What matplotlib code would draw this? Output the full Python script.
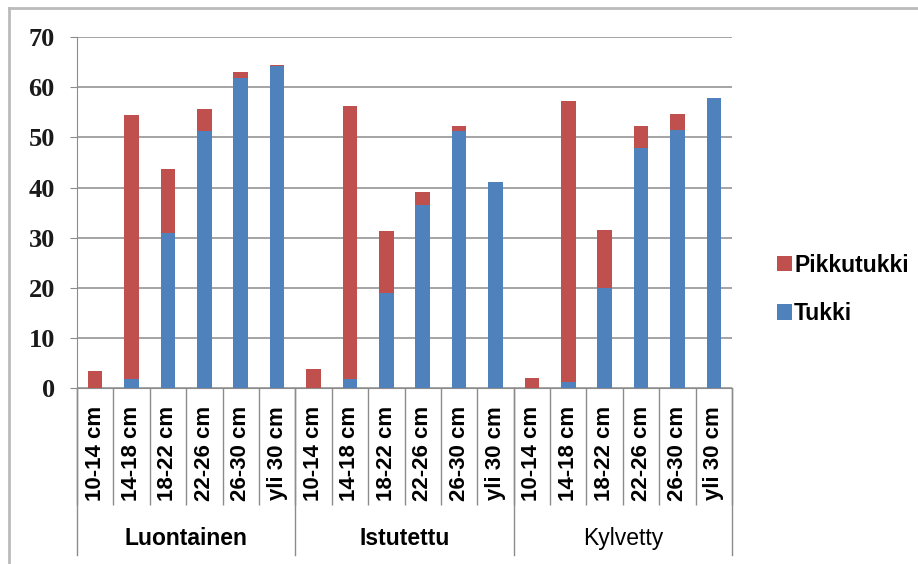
import numpy as np
import matplotlib.pyplot as plt
import matplotlib.transforms as mtransforms

groups = ['Luontainen', 'Istutettu', 'Kylvetty']
classes = ['10-14 cm', '14-18 cm', '18-22 cm', '22-26 cm', '26-30 cm', 'yli 30 cm']

# Tukki (blue, bottom) and Pikkutukki (red, on top), per group and diameter class
tukki = [0, 1.9, 30.9, 51.3, 61.9, 64.3,
         0, 1.8, 18.9, 36.6, 51.3, 41.2,
         0, 1.3, 20.0, 47.9, 51.5, 57.8]
pikkutukki = [3.4, 52.6, 12.9, 4.4, 1.1, 0.2,
              3.8, 54.5, 12.4, 2.6, 1.0, 0,
              2.1, 55.9, 11.5, 4.4, 3.1, 0]

red = '#C0504D'
blue = '#4F81BD'
grid_col = '#8C8C8C'

fig = plt.figure(figsize=(9.18, 5.64), dpi=100)
ax = fig.add_axes([0.0839, 0.312, 0.7135, 0.622])

x = np.arange(len(tukki))
ax.bar(x, tukki, width=0.4, color=blue, label='Tukki', zorder=3)
ax.bar(x, pikkutukki, width=0.4, bottom=tukki, color=red, label='Pikkutukki', zorder=3)

ax.set_xlim(-0.5, len(tukki) - 0.5)
ax.set_ylim(0, 70)
ax.set_yticks(range(0, 71, 10))
ax.yaxis.grid(True, color=grid_col, linewidth=1.1, zorder=0)
for s in ['top', 'right']:
    ax.spines[s].set_visible(False)
ax.spines['left'].set_color(grid_col)
ax.spines['bottom'].set_color(grid_col)
ax.tick_params(axis='y', length=5, color=grid_col, pad=11)
for lab in ax.get_yticklabels():
    lab.set_fontfamily('Liberation Serif')
    lab.set_fontweight('bold')
    lab.set_fontsize(19)
    lab.set_color('#1a1a1a')

# category labels at bar centres, separator ticks at boundaries
ax.set_xticks(np.arange(len(tukki) + 1) - 0.5)
ax.set_xticklabels([])
ax.tick_params(axis='x', which='major', length=84, width=1, color=grid_col)
ax.set_xticks(x, minor=True)
ax.set_xticklabels(classes * len(groups), minor=True, rotation=90,
                   fontsize=16, fontweight='bold', family='Liberation Sans')
ax.tick_params(axis='x', which='minor', length=0, pad=13)

# group labels and the long dividers between groups
trans = mtransforms.blended_transform_factory(ax.transData, ax.transAxes)
for i in range(len(groups) + 1):
    ax.plot([i * 6 - 0.5] * 2, [0, -0.475], transform=trans, color=grid_col,
            linewidth=1, clip_on=False)
for i, g in enumerate(groups):
    ax.text(i * 6 + 2.5, -0.43, g, transform=trans, ha='center', va='center',
            fontsize=16.5, fontweight='bold' if i < 2 else 'normal',
            family='Liberation Sans')

handles, labels = ax.get_legend_handles_labels()
leg = fig.legend(handles[::-1], labels[::-1], loc='center left',
                 bbox_to_anchor=(0.824, 0.487), frameon=False,
                 prop={'family': 'Liberation Sans', 'weight': 'bold', 'size': 16.5},
                 handlelength=0.65, handleheight=0.65, handletextpad=0.1,
                 labelspacing=1.1)

# chart area border (left and top edges)
fig.add_artist(plt.Line2D([0.0098, 0.0098], [0, 0.986], color='#BBBBBB', linewidth=2))
fig.add_artist(plt.Line2D([0.0098, 1], [0.986, 0.986], color='#BBBBBB', linewidth=2))

fig.savefig('out.png', dpi=100)
